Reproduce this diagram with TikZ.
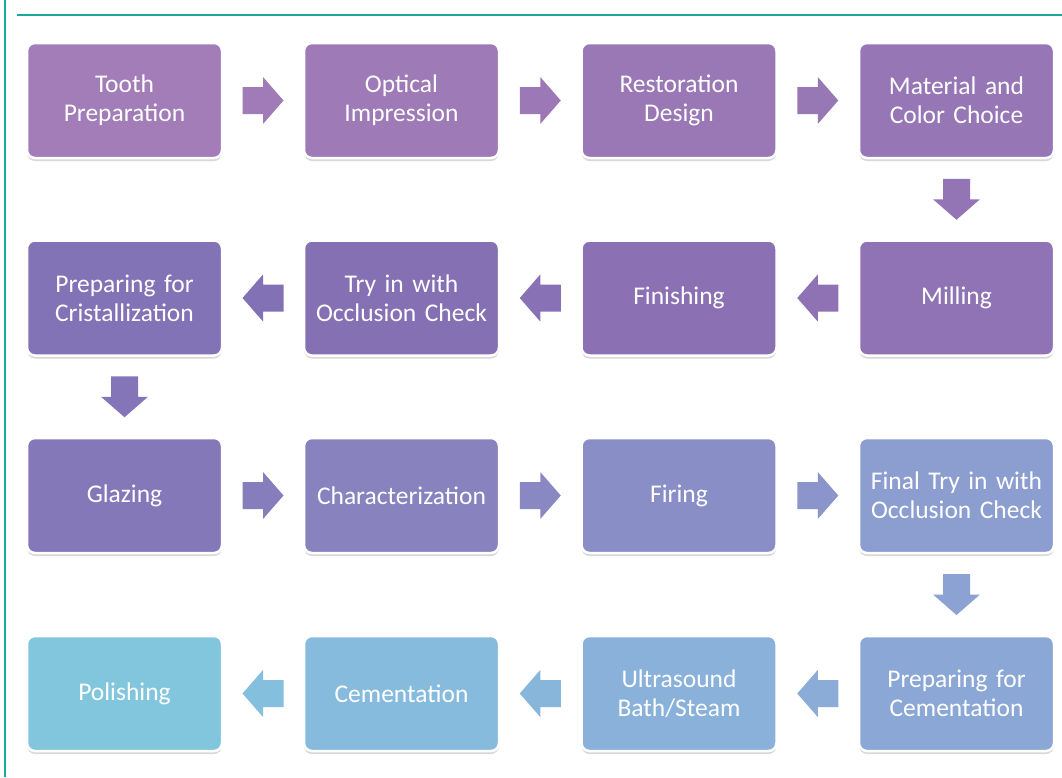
\documentclass[tikz,border=0pt]{standalone}
\usepackage{fontspec}
\setmainfont{Carlito}
\usetikzlibrary{shadows,calc}
\definecolor{frameteal}{HTML}{1AA79C}
\definecolor{c1}{HTML}{A27DB8}
\definecolor{c2}{HTML}{9E7AB7}
\definecolor{c3}{HTML}{9A78B6}
\definecolor{c4}{HTML}{9676B5}
\definecolor{c5}{HTML}{9073B4}
\definecolor{c6}{HTML}{8B71B4}
\definecolor{c7}{HTML}{8570B4}
\definecolor{c8}{HTML}{8272B6}
\definecolor{c9}{HTML}{8478B9}
\definecolor{c10}{HTML}{8882BF}
\definecolor{c11}{HTML}{8A8EC7}
\definecolor{c12}{HTML}{8C9DCF}
\definecolor{c13}{HTML}{8BA7D5}
\definecolor{c14}{HTML}{89B1DA}
\definecolor{c15}{HTML}{87BBDD}
\definecolor{c16}{HTML}{82C6DE}
\newcommand{\boxfont}{\fontsize{25.5}{29}\selectfont\fontdimen2\font=0.13em\fontdimen3\font=0pt\fontdimen4\font=0pt}
\begin{document}
\begin{tikzpicture}[x=1pt,y=-1pt,
  stepbox/.style={rounded corners=8pt, fill=#1, draw=white, line width=2.5pt,
    minimum width=195pt, minimum height=115pt, text width=190pt, align=center,
    text=white, font=\boxfont, inner sep=0pt,
    drop shadow={shadow xshift=0pt, shadow yshift=-3pt, opacity=0.25, fill=black!60}},
  blockarrow/.pic={\fill[pic actions] (-20.5,-13.5) -- (0,-13.5) -- (0,-23.5) -- (20.5,0) -- (0,23.5) -- (0,13.5) -- (-20.5,13.5) -- cycle;}
]
\useasboundingbox (0,0) rectangle (1062,777);
\fill[white] (0,0) rectangle (1062,777);
% frame lines
\draw[frameteal, line width=2.2pt] (5,0) -- (5,777);
\draw[frameteal, line width=1.5pt] (17,15) -- (1062,15);

% row 1
\node[stepbox=c1] (b1) at (124.5,100.5) {Tooth\\Preparation};
\node[stepbox=c2] (b2) at (401.5,100.5) {Optical\\Impression};
\node[stepbox=c3] (b3) at (679,100.5) {Restoration\\Design};
\node[stepbox=c4] (b4) at (956.5,100.5) {Material and\\Color Choice};
% row 2
\node[stepbox=c5] (b5) at (956.5,298) {Milling};
\node[stepbox=c6] (b6) at (679,298) {Finishing};
\node[stepbox=c7] (b7) at (401.5,298) {Try in with\\Occlusion Check};
\node[stepbox=c8] (b8) at (124.5,298) {Preparing for\\Cristallization};
% row 3
\node[stepbox=c9] (b9) at (124.5,495.5) {Glazing};
\node[stepbox=c10] (b10) at (401.5,495.5) {Characterization};
\node[stepbox=c11] (b11) at (679,495.5) {Firing};
\node[stepbox=c12] (b12) at (956.5,495.5) {Final Try in with\\Occlusion Check};
% row 4
\node[stepbox=c13] (b13) at (956.5,693.5) {Preparing for\\Cementation};
\node[stepbox=c14] (b14) at (679,693.5) {Ultrasound\\Bath/Steam};
\node[stepbox=c15] (b15) at (401.5,693.5) {Cementation};
\node[stepbox=c16] (b16) at (124.5,693.5) {Polishing};

% connector positions
\path (b1.east) -- (b2.west) coordinate[midway] (a1);
\path (b2.east) -- (b3.west) coordinate[midway] (a2);
\path (b3.east) -- (b4.west) coordinate[midway] (a3);
\path (b4.south) -- (b5.north) coordinate[midway] (a4);
\path (b5.west) -- (b6.east) coordinate[midway] (a5);
\path (b6.west) -- (b7.east) coordinate[midway] (a6);
\path (b7.west) -- (b8.east) coordinate[midway] (a7);
\path (b8.south) -- (b9.north) coordinate[midway] (a8);
\path (b9.east) -- (b10.west) coordinate[midway] (a9);
\path (b10.east) -- (b11.west) coordinate[midway] (a10);
\path (b11.east) -- (b12.west) coordinate[midway] (a11);
\path (b12.south) -- (b13.north) coordinate[midway] (a12);
\path (b13.west) -- (b14.east) coordinate[midway] (a13);
\path (b14.west) -- (b15.east) coordinate[midway] (a14);
\path (b15.west) -- (b16.east) coordinate[midway] (a15);

\pic[fill=c1!50!c2] at (a1) {blockarrow};
\pic[fill=c2!50!c3] at (a2) {blockarrow};
\pic[fill=c3!50!c4] at (a3) {blockarrow};
\pic[fill=c4!50!c5, rotate=-90] at (a4) {blockarrow};
\pic[fill=c5!50!c6, rotate=180] at (a5) {blockarrow};
\pic[fill=c6!50!c7, rotate=180] at (a6) {blockarrow};
\pic[fill=c7!50!c8, rotate=180] at (a7) {blockarrow};
\pic[fill=c8!50!c9, rotate=-90] at (a8) {blockarrow};
\pic[fill=c9!50!c10] at (a9) {blockarrow};
\pic[fill=c10!50!c11] at (a10) {blockarrow};
\pic[fill=c11!50!c12] at (a11) {blockarrow};
\pic[fill=c12!50!c13, rotate=-90] at (a12) {blockarrow};
\pic[fill=c13!50!c14, rotate=180] at (a13) {blockarrow};
\pic[fill=c14!50!c15, rotate=180] at (a14) {blockarrow};
\pic[fill=c15!50!c16, rotate=180] at (a15) {blockarrow};
\end{tikzpicture}
\end{document}
